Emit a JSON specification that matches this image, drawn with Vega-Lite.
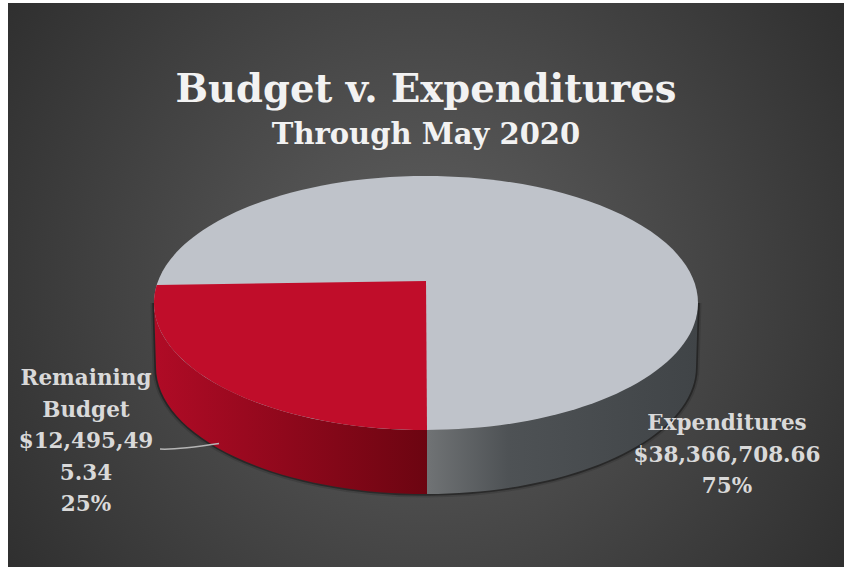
{"$schema":"https://vega.github.io/schema/vega-lite/v6.json","width":836,"height":564,"autosize":{"type":"none"},"padding":{"left":8,"top":3,"right":0,"bottom":0},"background":"#ffffff","config":{"view":{"stroke":null}},"title":{"text":"Budget v. Expenditures","subtitle":"Through May 2020","anchor":"middle","orient":"top","offset":-148,"font":"DejaVu Serif","fontWeight":"bold","fontSize":38.5,"color":"#f2f2f2","subtitleFont":"DejaVu Serif","subtitleFontWeight":"bold","subtitleFontSize":29,"subtitleColor":"#f2f2f2","subtitlePadding":11},"data":{"values":[{"category":"Expenditures","value":38366708.66,"share":0.75,"label":"Expenditures\n$38,366,708.66\n75%"},{"category":"Remaining Budget","value":12495495.34,"share":0.25,"label":"Remaining\nBudget\n$12,495,49\n5.34\n25%"}]},"layer":[{"mark":{"type":"rect","fill":{"gradient":"radial","x1":0.5,"y1":0.5,"r1":0,"x2":0.5,"y2":0.5,"r2":0.67,"stops":[{"offset":0,"color":"#606060"},{"offset":1,"color":"#2a2a2a"}]}},"encoding":{}},{"transform":[{"filter":"datum.category==='Expenditures'"}],"mark":{"type":"point","size":4,"filled":false,"stroke":"#000000","strokeWidth":7,"opacity":0.12,"shape":"M -272 18 L -270 82 A 270 127 0 0 0 270 82 L 272 18"}},{"transform":[{"filter":"datum.category==='Expenditures'"}],"mark":{"type":"point","size":4,"filled":false,"stroke":"#000000","strokeWidth":3.5,"opacity":0.35,"shape":"M -272 18 L -270 82 A 270 127 0 0 0 270 82 L 272 18"}},{"transform":[{"filter":"datum.category==='Expenditures'"}],"mark":{"type":"point","size":4,"filled":true,"opacity":1,"fill":{"gradient":"linear","x1":0,"y1":0,"x2":1,"y2":0,"stops":[{"offset":0,"color":"#707375"},{"offset":0.3,"color":"#4e5255"},{"offset":1,"color":"#404447"}]},"shape":"M 1 145 A 272 127 0 0 0 272 18 L 270 82 A 270 127 0 0 1 1 209 Z"}},{"transform":[{"filter":"datum.category==='Remaining Budget'"}],"mark":{"type":"point","size":4,"filled":true,"opacity":1,"fill":{"gradient":"linear","x1":0,"y1":0,"x2":1,"y2":0,"stops":[{"offset":0,"color":"#b00b26"},{"offset":1,"color":"#6c0511"}]},"shape":"M -272 18 A 272 127 0 0 0 1 145 L 1 209 A 270 127 0 0 1 -270 82 Z"}},{"transform":[{"filter":"datum.category==='Expenditures'"}],"mark":{"type":"point","size":4,"filled":true,"opacity":1,"fill":"#bfc3ca","shape":"M -272 18 A 272 127 0 1 1 272 18 A 272 127 0 1 1 -272 18 Z"}},{"transform":[{"filter":"datum.category==='Remaining Budget'"}],"mark":{"type":"point","size":4,"filled":true,"opacity":1,"fill":"#c00d2a","shape":"M 0 -4 L -269.3 0 A 272 127 0 0 0 1 145 Z"}},{"transform":[{"filter":"datum.category==='Remaining Budget'"}],"mark":{"type":"point","size":4,"filled":false,"opacity":1,"stroke":"#b5b5b5","strokeWidth":1.5,"shape":"M -266 164 C -250 165 -230 162 -207 158.5"}},{"transform":[{"filter":"datum.category==='Expenditures'"}],"mark":{"type":"text","align":"center","baseline":"alphabetic","dx":301,"dy":145,"lineHeight":31.5,"font":"DejaVu Serif","fontWeight":"bold","fontSize":21.5,"fill":"#d9d9d9","lineBreak":"\n"},"encoding":{"text":{"field":"label"}}},{"transform":[{"filter":"datum.category==='Remaining Budget'"}],"mark":{"type":"text","align":"center","baseline":"alphabetic","dx":-340,"dy":100,"lineHeight":31.5,"font":"DejaVu Serif","fontWeight":"bold","fontSize":21.5,"fill":"#d9d9d9","lineBreak":"\n"},"encoding":{"text":{"field":"label"}}}]}
